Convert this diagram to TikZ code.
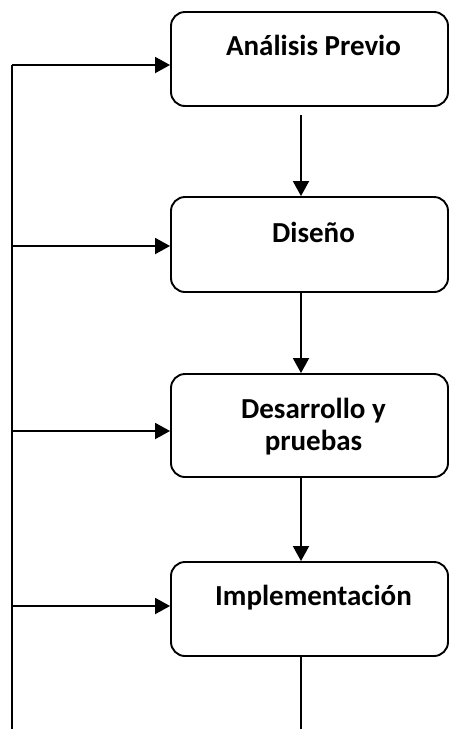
\documentclass[tikz,border=0pt]{standalone}
\usepackage{fontspec}
\setmainfont{Carlito}
\usetikzlibrary{arrows.meta}
\tikzset{
  box/.style={draw, line width=1.9pt, rounded corners=14pt, minimum width=277pt, inner sep=0pt},
  lbl/.style={anchor=base, inner sep=0pt, font=\fontsize{29}{32}\selectfont\bfseries, align=center},
  conn/.style={line width=1.9pt},
  arr/.style={conn, -{Triangle[length=15pt,width=16pt]}}
}
\begin{document}
\begin{tikzpicture}[x=1pt,y=-1pt]
\useasboundingbox (0,0) rectangle (448,729);
\node[box, minimum height=94pt] (b1) at (309.5,59) {};
\node[box, minimum height=95pt] (b2) at (309.5,244.5) {};
\node[box, minimum height=103pt] (b3) at (309.5,425.5) {};
\node[box, minimum height=94pt] (b4) at (309.5,609) {};
\node[lbl] (t1) at (313.5,55) {Análisis Previo};
\node[lbl] (t2) at (313.5,242) {Diseño};
\node[lbl] (t3a) at (313.5,418.5) {Desarrollo y};
\node[lbl] (t3b) at (313.5,450.5) {pruebas};
\node[lbl] (t4) at (313.5,605) {Implementación};
% vertical flow
\draw[arr] ([xshift=-8.5pt,yshift=-8pt]b1.south) -- ([xshift=-8.5pt]b2.north);
\draw[arr] ([xshift=-8.5pt]b2.south) -- ([xshift=-8.5pt]b3.north);
\draw[arr] ([xshift=-8.5pt]b3.south) -- ([xshift=-8.5pt]b4.north);
\coordinate (bend) at (301,729);
\draw[conn] ([xshift=-8.5pt]b4.south) -- (bend);
% feedback line
\coordinate (L1) at (12,65);
\coordinate (L2) at (12,246);
\coordinate (L3) at (12,431);
\coordinate (L4) at (12,606);
\coordinate (L5) at (12,729);
\draw[conn] (L1) -- (L5);
\draw[arr] (L1) -- (L1 -| b1.west);
\draw[arr] (L2) -- (L2 -| b2.west);
\draw[arr] (L3) -- (L3 -| b3.west);
\draw[arr] (L4) -- (L4 -| b4.west);
\end{tikzpicture}
\end{document}
